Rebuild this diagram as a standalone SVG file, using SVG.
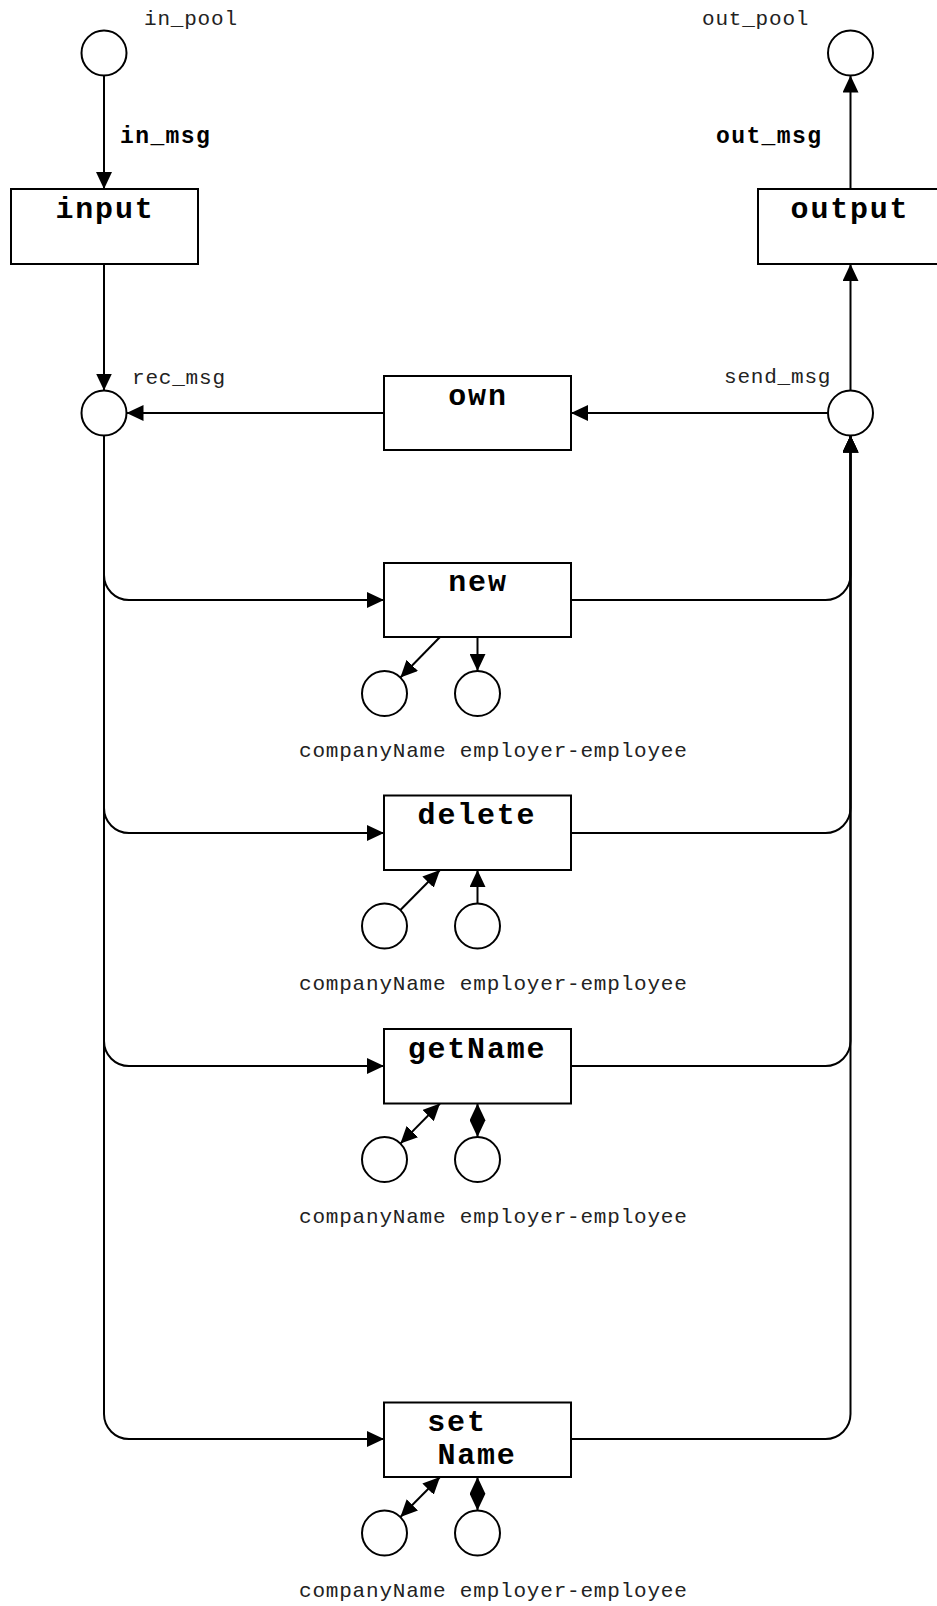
<svg xmlns="http://www.w3.org/2000/svg" width="937" height="1606" viewBox="0 0 937 1606">
<style>
.box{fill:#fff;stroke:#000;stroke-width:2}
.place{fill:#fff;stroke:#000;stroke-width:2}
.conn{fill:none;stroke:#000;stroke-width:2}
.bl{font-family:"Liberation Mono","Courier New",monospace;font-weight:bold;font-size:30px;letter-spacing:1.8px;text-anchor:middle;fill:#000}
.al{font-family:"Liberation Mono","Courier New",monospace;font-weight:bold;font-size:23px;letter-spacing:1.4px;fill:#000}
.pl{font-family:"Liberation Mono","Courier New",monospace;font-size:21px;letter-spacing:0.8px;fill:#222}
</style>
<defs>
<marker id="ah" markerUnits="userSpaceOnUse" markerWidth="17" markerHeight="16" refX="17" refY="8" orient="auto-start-reverse" viewBox="0 0 17 16">
<path d="M0,0 L17,8 L0,16 z" fill="#000"/>
</marker>
</defs>
<g id="connectors">
<path class="conn" d="M104,75.5 V189" marker-end="url(#ah)"/>
<path class="conn" d="M850.5,189 V75.5" marker-end="url(#ah)"/>
<path class="conn" d="M104,264 V390.5" marker-end="url(#ah)"/>
<path class="conn" d="M384,413 H126.5" marker-end="url(#ah)"/>
<path class="conn" d="M828,413 H571" marker-end="url(#ah)"/>
<path class="conn" d="M850.5,390.5 V264" marker-end="url(#ah)"/>
<path class="conn" d="M104,435.5 V575 A25,25 0 0 0 129,600 H384" marker-end="url(#ah)"/>
<path class="conn" d="M104,435.5 V808 A25,25 0 0 0 129,833 H384" marker-end="url(#ah)"/>
<path class="conn" d="M104,435.5 V1041 A25,25 0 0 0 129,1066 H384" marker-end="url(#ah)"/>
<path class="conn" d="M104,435.5 V1414 A25,25 0 0 0 129,1439 H384" marker-end="url(#ah)"/>
<path class="conn" d="M571,600 H825.5 A25,25 0 0 0 850.5,575 V435.5" marker-end="url(#ah)"/>
<path class="conn" d="M571,833 H825.5 A25,25 0 0 0 850.5,808 V435.5" marker-end="url(#ah)"/>
<path class="conn" d="M571,1066 H825.5 A25,25 0 0 0 850.5,1041 V435.5" marker-end="url(#ah)"/>
<path class="conn" d="M571,1439 H825.5 A25,25 0 0 0 850.5,1414 V435.5" marker-end="url(#ah)"/>
<path class="conn" d="M440,637 L400.4,677.5" marker-end="url(#ah)"/>
<path class="conn" d="M477.5,637 V671" marker-end="url(#ah)"/>
<path class="conn" d="M400.4,910 L440,870" marker-end="url(#ah)"/>
<path class="conn" d="M477.5,903.5 V870" marker-end="url(#ah)"/>
<path class="conn" d="M400.4,1143.6 L440,1103.5" marker-start="url(#ah)" marker-end="url(#ah)"/>
<path class="conn" d="M477.5,1137 V1103.5" marker-start="url(#ah)" marker-end="url(#ah)"/>
<path class="conn" d="M400.4,1517 L440,1477" marker-start="url(#ah)" marker-end="url(#ah)"/>
<path class="conn" d="M477.5,1510.5 V1477" marker-start="url(#ah)" marker-end="url(#ah)"/>
</g>
<g id="in_pool"><circle class="place" cx="104" cy="53" r="22.5"/><text class="pl" x="144" y="25">in_pool</text></g>
<g id="out_pool"><circle class="place" cx="850.5" cy="53" r="22.5"/><text class="pl" x="702" y="25">out_pool</text></g>
<g id="in_msg"><text class="al" x="120" y="143">in_msg</text></g>
<g id="out_msg"><text class="al" x="716" y="143">out_msg</text></g>
<g id="input"><rect class="box" x="11" y="189" width="187" height="75"/><text class="bl" x="105" y="217.5">input</text></g>
<g id="output"><rect class="box" x="758" y="189" width="187" height="75"/><text class="bl" x="850" y="217.5">output</text></g>
<g id="rec_msg"><circle class="place" cx="104" cy="413" r="22.5"/><text class="pl" x="132" y="384">rec_msg</text></g>
<g id="send_msg"><circle class="place" cx="850.5" cy="413" r="22.5"/><text class="pl" x="724" y="383">send_msg</text></g>
<g id="own"><rect class="box" x="384" y="376" width="187" height="74"/><text class="bl" x="478" y="404.5">own</text></g>
<g id="new"><rect class="box" x="384" y="563" width="187" height="74"/><text class="bl" x="478" y="591">new</text>
<circle class="place" cx="384.5" cy="693.5" r="22.5"/><circle class="place" cx="477.5" cy="693.5" r="22.5"/>
<text class="pl" x="299" y="757">companyName employer-employee</text></g>
<g id="delete"><rect class="box" x="384" y="795.5" width="187" height="74.5"/><text class="bl" x="477" y="824">delete</text>
<circle class="place" cx="384.5" cy="926" r="22.5"/><circle class="place" cx="477.5" cy="926" r="22.5"/>
<text class="pl" x="299" y="990">companyName employer-employee</text></g>
<g id="getName"><rect class="box" x="384" y="1029" width="187" height="74.5"/><text class="bl" x="477" y="1057.5">getName</text>
<circle class="place" cx="384.5" cy="1159.5" r="22.5"/><circle class="place" cx="477.5" cy="1159.5" r="22.5"/>
<text class="pl" x="299" y="1223">companyName employer-employee</text></g>
<g id="setName"><rect class="box" x="384" y="1402.5" width="187" height="74.5"/>
<text class="bl" x="457" y="1430.5">set</text><text class="bl" x="477" y="1463.5">Name</text>
<circle class="place" cx="384.5" cy="1533" r="22.5"/><circle class="place" cx="477.5" cy="1533" r="22.5"/>
<text class="pl" x="299" y="1597">companyName employer-employee</text></g>
</svg>
